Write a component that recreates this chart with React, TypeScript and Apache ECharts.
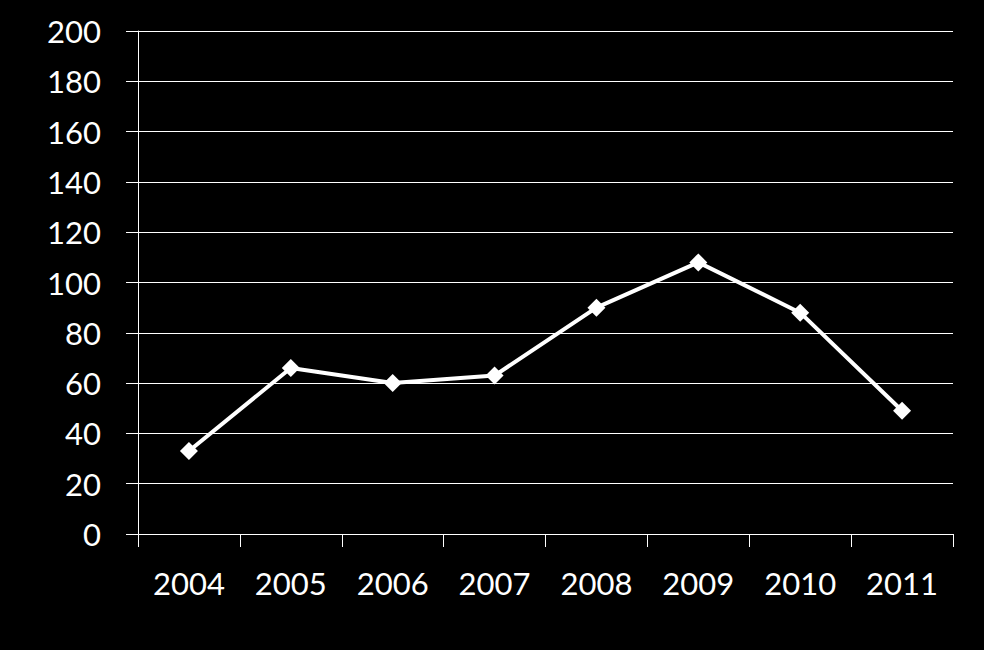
import React, { useEffect, useRef } from "react";
import * as echarts from "echarts";

const years = ["2004", "2005", "2006", "2007", "2008", "2009", "2010", "2011"];
const values = [33, 66, 60, 63, 90, 108, 88, 49];

export default function App() {
  const ref = useRef<HTMLDivElement>(null);
  useEffect(() => {
    if (!ref.current) return;
    const chart = echarts.init(ref.current, null, { renderer: "svg" });
    chart.setOption({
      animation: false,
      backgroundColor: "#000000",
      grid: { left: 138, right: 31, top: 31, bottom: 116 },
      xAxis: {
        type: "category",
        data: years,
        boundaryGap: true,
        axisLine: { show: true, lineStyle: { color: "#ffffff", width: 1 } },
        axisTick: { show: true, length: 13, lineStyle: { color: "#ffffff", width: 1 } },
        axisLabel: { color: "#ffffff", fontFamily: "Lato", fontSize: 31, margin: 33 },
        splitLine: { show: false },
      },
      yAxis: {
        type: "value",
        min: 0,
        max: 200,
        interval: 20,
        axisLine: { show: true, lineStyle: { color: "#ffffff", width: 1 } },
        axisTick: { show: true, length: 12, lineStyle: { color: "#ffffff", width: 1 } },
        axisLabel: { color: "#ffffff", fontFamily: "Lato", fontSize: 31, margin: 37 },
        splitLine: { show: true, lineStyle: { color: "#ffffff", width: 1 } },
      },
      series: [
        {
          type: "line",
          data: values,
          symbol: "diamond",
          symbolSize: 18,
          lineStyle: { color: "#ffffff", width: 4 },
          itemStyle: { color: "#ffffff" },
        },
      ],
    });
    return () => chart.dispose();
  }, []);
  return <div ref={ref} style={{ width: 984, height: 650, position: "absolute", left: 0, top: 0 }} />;
}
